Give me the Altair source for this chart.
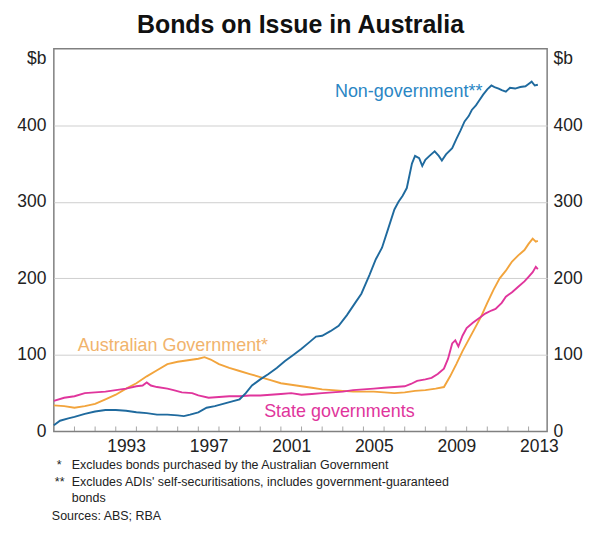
import altair as alt
import pandas as pd

# ---------------- data ----------------
ng_year = [1990.0, 1990.3, 1990.7, 1991.0, 1991.5, 1992.0, 1992.5, 1993.0, 1993.5, 1994.0,
           1994.5, 1995.0, 1995.5, 1996.0, 1996.3, 1996.6, 1997.0, 1997.4, 1997.8, 1998.2,
           1998.6, 1999.0, 1999.3, 1999.6, 2000.0, 2000.4, 2000.8, 2001.2, 2001.6, 2002.0,
           2002.4, 2002.7, 2003.0, 2003.4, 2003.8, 2004.2, 2004.6, 2004.9, 2005.3, 2005.6,
           2005.9, 2006.2, 2006.5, 2006.7, 2006.9, 2007.1, 2007.35, 2007.5, 2007.7, 2007.85,
           2008.0, 2008.2, 2008.45, 2008.65, 2008.8, 2009.0, 2009.3, 2009.5, 2009.7, 2009.9,
           2010.1, 2010.25, 2010.45, 2010.6, 2010.8, 2011.0, 2011.2, 2011.35, 2011.55, 2011.7,
           2011.9, 2012.1, 2012.35, 2012.6, 2012.85, 2013.0, 2013.15, 2013.3, 2013.45]
ng_value = [8, 14, 17, 19, 23, 26, 28, 28, 27, 25,
            24, 22, 22, 21, 20, 22, 25, 31, 33, 36,
            39, 42, 50, 60, 68, 75, 83, 92, 100, 108,
            117, 124, 125, 131, 138, 152, 168, 180, 205, 225,
            240, 265, 290, 300, 308, 318, 350, 360, 357, 347,
            355, 360, 366, 360, 354, 362, 370, 382, 393, 405,
            412, 420, 426, 432, 440, 447, 452, 450, 448, 446,
            444, 449, 448, 450, 451, 454, 457, 452, 453]

ag_year = [1990.0, 1990.5, 1991.0, 1991.5, 1992.0, 1992.5, 1993.0, 1993.5, 1994.0, 1994.5,
           1995.0, 1995.5, 1996.0, 1996.5, 1997.0, 1997.3, 1997.6, 1998.0, 1998.5, 1999.0,
           1999.5, 2000.0, 2000.5, 2001.0, 2001.5, 2002.0, 2002.5, 2003.0, 2003.5, 2004.0,
           2004.5, 2005.0, 2005.5, 2006.0, 2006.5, 2007.0, 2007.5, 2008.0, 2008.5, 2008.9,
           2009.2, 2009.5, 2009.8, 2010.1, 2010.4, 2010.7, 2011.0, 2011.3, 2011.6, 2011.9,
           2012.2, 2012.5, 2012.8, 2013.0, 2013.2, 2013.35, 2013.45]
ag_value = [34, 33, 31, 33, 36, 42, 48, 56, 63, 72,
            80, 88, 91, 93, 95, 97, 94, 88, 83, 79,
            75, 71, 67, 63, 61, 59, 57, 55, 54, 53,
            52, 52, 52, 51, 50, 51, 53, 54, 56, 58,
            72, 88, 105, 120, 135, 150, 168, 185, 200, 210,
            222, 230, 237, 245, 252, 248, 249]

sg_year = [1990.0, 1990.5, 1991.0, 1991.5, 1992.0, 1992.5, 1993.0, 1993.5, 1994.0, 1994.3,
           1994.5, 1994.7, 1995.0, 1995.5, 1995.8, 1996.2, 1996.7, 1997.0, 1997.5, 1998.0,
           1998.5, 1999.0, 1999.5, 2000.0, 2000.5, 2001.0, 2001.5, 2002.0, 2002.5, 2003.0,
           2003.5, 2004.0, 2004.5, 2005.0, 2005.5, 2006.0, 2006.5, 2007.0, 2007.3, 2007.6,
           2008.0, 2008.3, 2008.6, 2008.9, 2009.1, 2009.3, 2009.45, 2009.6, 2009.8, 2010.0,
           2010.3, 2010.6, 2010.9, 2011.2, 2011.4, 2011.7, 2011.9, 2012.2, 2012.5, 2012.8,
           2013.0, 2013.2, 2013.35, 2013.45]
sg_value = [40, 44, 46, 50, 51, 52, 54, 56, 59, 60,
            64, 60, 58, 56, 54, 51, 50, 47, 44, 45,
            46, 46, 47, 47, 48, 49, 50, 48, 49, 50,
            51, 52, 54, 55, 56, 57, 58, 59, 62, 66,
            68, 70, 75, 82, 95, 115, 119, 111, 125, 135,
            142, 148, 154, 158, 160, 168, 176, 182, 189, 196,
            202, 208, 215, 212]

series_names = ["Australian Government", "State governments", "Non-government"]
series_colors = ["#f2a43c", "#e0359c", "#1f6a9e"]

label_text = ["Non-government**", "Australian Government*", "State governments"]
label_year = [2003.62, 1991.16, 2000.19]
label_value = [444, 112, 26]
label_color = ["#2a86c4", "#f1b36c", "#e0359c"]

tick_years = list(range(1991, 2014))
year_labels = [1993, 1997, 2001, 2005, 2009, 2013]
y_ticks = [0, 100, 200, 300, 400]

title_text = "Bonds on Issue in Australia"
footnotes = [
    ("*", 3, 418),
    ("Excludes bonds purchased by the Australian Government", 18, 418),
    ("**", 1, 435),
    ("Excludes ADIs' self-securitisations, includes government-guaranteed", 18, 435),
    ("bonds", 18, 451),
    ("Sources: ABS; RBA", -2, 469),
]

# ---------------- build tables ----------------
df = pd.concat([
    pd.DataFrame({"year": ag_year, "value": ag_value, "series": series_names[0]}),
    pd.DataFrame({"year": sg_year, "value": sg_value, "series": series_names[1]}),
    pd.DataFrame({"year": ng_year, "value": ng_value, "series": series_names[2]}),
])
labels_df = pd.DataFrame({"year": label_year, "value": label_value,
                          "text": label_text, "color": label_color})
ticks_df = pd.DataFrame({"year": tick_years, "value": [0] * len(tick_years)})

FONT = "Liberation Sans"
XDOM = [1990, 2013.9]
YDOM = [0, 500]
SB = 487  # position of the "$b" unit label

x_scale = alt.Scale(domain=XDOM, nice=False, zero=False)
y_scale = alt.Scale(domain=YDOM, nice=False)

label_expr_y = "datum.value > 450 ? '$b' : datum.label"

x_axis = alt.Axis(values=[y + 0.5 for y in year_labels], labelExpr="floor(datum.value)",
                  ticks=False, domain=False, grid=False, title=None,
                  labelFontSize=17.5, labelFont=FONT, labelColor="#222222",
                  labelPadding=6, labelFlush=False, labelOverlap=False)

left_axis = alt.Axis(values=y_ticks + [SB], labelExpr=label_expr_y, ticks=False,
                     domain=False, grid=True, gridColor="#cfcfcf", gridWidth=1,
                     gridOpacity={"condition": {"test": "datum.value == 0 || datum.value > 450",
                                                "value": 0}, "value": 1},
                     title=None, labelFontSize=17.5, labelFont=FONT, labelColor="#222222",
                     labelPadding=8, labelFlush=False, labelOverlap=False)

right_axis = alt.Axis(values=y_ticks + [SB], labelExpr=label_expr_y, ticks=False,
                      domain=False, grid=False, orient="right", title=None,
                      labelFontSize=17.5, labelFont=FONT, labelColor="#222222",
                      labelPadding=6, labelFlush=False, labelOverlap=False)

lines = alt.Chart(df).mark_line(strokeWidth=1.9).encode(
    x=alt.X("year:Q", scale=x_scale, axis=x_axis),
    y=alt.Y("value:Q", scale=y_scale, axis=left_axis),
    color=alt.Color("series:N", scale=alt.Scale(domain=series_names, range=series_colors),
                    legend=None),
    order=alt.Order("year:Q"),
)

right = alt.Chart(df).mark_line(opacity=0).encode(
    x=alt.X("year:Q", scale=x_scale),
    y=alt.Y("value:Q", scale=y_scale, axis=right_axis),
    detail="series:N",
)

ticks = alt.Chart(ticks_df).mark_tick(orient="vertical", size=5, thickness=1,
                                      color="#808080", yOffset=-2.5).encode(
    x=alt.X("year:Q", scale=x_scale),
    y=alt.Y("value:Q", scale=y_scale, axis=None),
)

labels = alt.Chart(labels_df).mark_text(align="left", baseline="middle", fontSize=18,
                                        font=FONT).encode(
    x=alt.X("year:Q", scale=x_scale),
    y=alt.Y("value:Q", scale=y_scale, axis=None),
    text="text:N",
    color=alt.Color("color:N", scale=None),
)

notes = [
    alt.Chart(pd.DataFrame({"t": [t]})).mark_text(
        align="left", baseline="middle", fontSize=12.5, font=FONT, color="#222222"
    ).encode(text="t:N", x=alt.value(px), y=alt.value(py))
    for t, px, py in footnotes
]

chart = alt.layer(lines, right, ticks, labels, *notes).resolve_axis(
    y="independent"
).properties(
    width=495,
    height=384,
    title=alt.TitleParams(title_text, fontSize=25, font=FONT, fontWeight="bold",
                          color="#111111", anchor="middle", offset=11),
    autosize=alt.AutoSizeParams(type="none"),
    padding={"left": 46, "top": 40, "right": 40, "bottom": 96},
).configure_view(stroke="#808080", strokeWidth=1.5)

chart.save("out.html", embed_options={"renderer": "svg", "actions": False})
